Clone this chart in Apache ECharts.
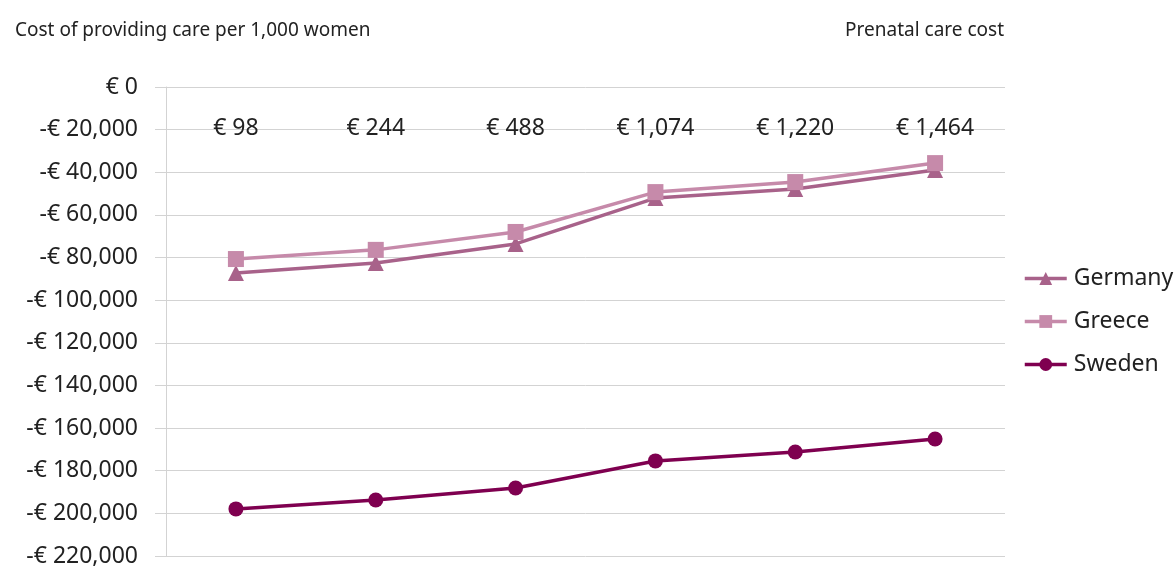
<!DOCTYPE html>
<html>
<head>
<meta http-equiv="Content-Type" content="text/html; charset=utf-8" />
<title>Prenatal care cost</title>
<style type="text/css">
  html {height:100%}
  body {height:100%; margin:0px; padding:0px;}
  #main {width:1175px; height:568px;}
</style>
<script type="text/javascript" src="https://cdn.jsdelivr.net/npm/echarts@6/dist/echarts.min.js"></script>
</head>
<body>
<div id="main"></div>
<script type="text/javascript">
var costs = ['€ 98', '€ 244', '€ 488', '€ 1,074', '€ 1,220', '€ 1,464'];
var germany = [-87200, -82600, -73600, -52100, -47800, -38900];
var greece = [-80700, -76400, -68000, -49300, -44600, -35700];
var sweden = [-197900, -193700, -188100, -175400, -171200, -165100];

var textColor = '#222';
var gridColor = '#d3d3d3';
var font = '"Noto Sans", sans-serif';

function money(v) {
  if (v === 0) return '€ 0';
  var s = Math.abs(v).toString().replace(/\B(?=(\d{3})+(?!\d))/g, ',');
  return (v < 0 ? '-€ ' : '€ ') + s;
}

var myChart = echarts.init(document.getElementById('main'));

myChart.setOption({
  animation: false,
  textStyle: {fontFamily: font},
  title: [{
    text: 'Cost of providing care per 1,000 women',
    left: 10, top: 16,
    textStyle: {fontSize: 19, fontWeight: 'normal', color: textColor, fontFamily: font}
  }, {
    text: 'Prenatal care cost',
    right: 166, top: 16,
    textStyle: {fontSize: 19, fontWeight: 'normal', color: textColor, fontFamily: font}
  }],
  legend: {
    orient: 'vertical',
    left: 1018,
    top: 262,
    itemWidth: 42,
    itemHeight: 16,
    itemGap: 20,
    data: ['Germany', 'Greece', 'Sweden'],
    lineStyle: {width: 3.5},
    textStyle: {fontSize: 23, color: textColor, fontFamily: font, padding: [0, 0, 0, 2]}
  },
  grid: {left: 166, right: 170, top: 87, bottom: 12, containLabel: false},
  xAxis: {
    type: 'category',
    position: 'top',
    data: costs,
    boundaryGap: true,
    axisLine: {show: false},
    axisTick: {show: false},
    axisLabel: {inside: true, margin: 30, fontSize: 23, color: textColor, fontFamily: font},
    splitLine: {show: false}
  },
  yAxis: {
    type: 'value',
    min: -220000,
    max: 0,
    interval: 20000,
    axisLine: {show: true, lineStyle: {color: gridColor, width: 1}},
    axisTick: {show: true, length: 11, lineStyle: {color: gridColor}},
    axisLabel: {margin: 28, fontSize: 23, color: textColor, fontFamily: font, formatter: money},
    splitLine: {show: true, lineStyle: {color: gridColor, width: 1}}
  },
  series: [{
    name: 'Germany',
    type: 'line',
    data: germany,
    symbol: 'triangle',
    symbolSize: 16,
    z: 3,
    lineStyle: {color: '#a8628a', width: 3.5},
    itemStyle: {color: '#a8628a'}
  }, {
    name: 'Greece',
    type: 'line',
    data: greece,
    symbol: 'rect',
    symbolSize: 16,
    z: 4,
    lineStyle: {color: '#c68aaa', width: 3.5},
    itemStyle: {color: '#c68aaa'}
  }, {
    name: 'Sweden',
    type: 'line',
    data: sweden,
    symbol: 'circle',
    symbolSize: 15,
    z: 5,
    lineStyle: {color: '#7f0050', width: 3.5},
    itemStyle: {color: '#7f0050'}
  }]
});
</script>
</body>
</html>
